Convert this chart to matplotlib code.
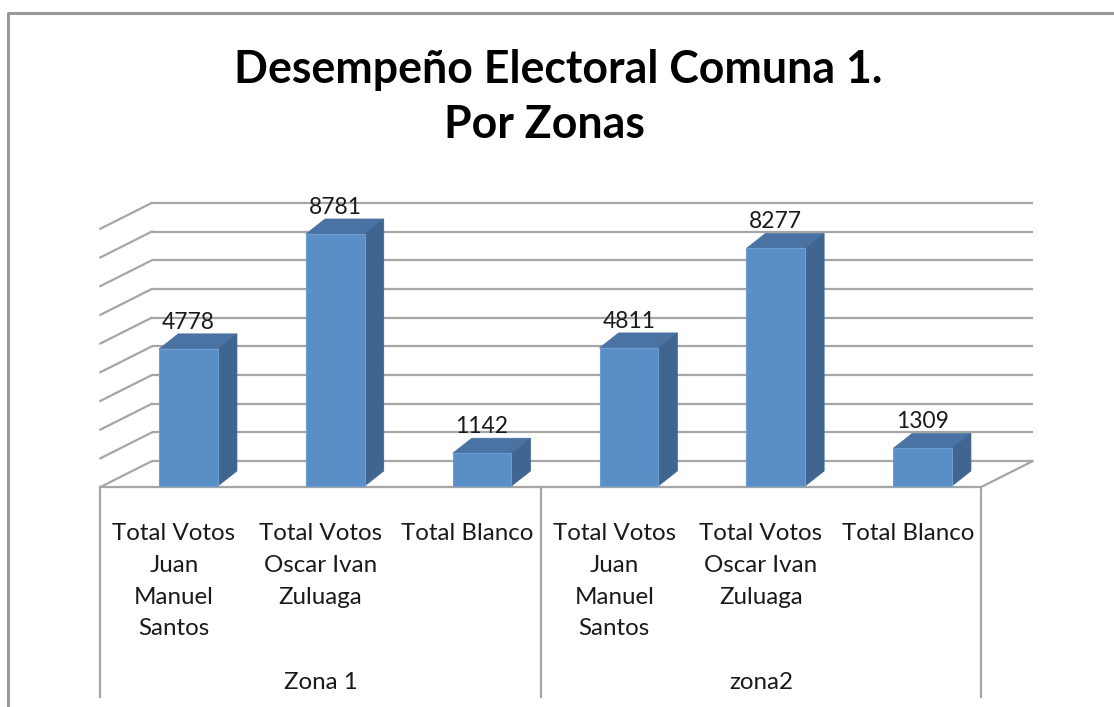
import matplotlib
matplotlib.use('Agg')
import matplotlib.pyplot as plt
from matplotlib.patches import Polygon

# ---------------- data ----------------
zones = ['Zona 1', 'zona2']
categories = ['Total Votos\nJuan\nManuel\nSantos',
              'Total Votos\nOscar Ivan\nZuluaga',
              'Total Blanco']
zona1_values = [4778, 8781, 1142]
zona2_values = [4811, 8277, 1309]
title_lines = ['Desempeño Electoral Comuna 1.', 'Por Zonas']
grid_ticks = list(range(0, 10000, 1000))

# ---------------- figure / scale ----------------
W, H, DPI = 1114, 707, 100
fig = plt.figure(figsize=(W / DPI, H / DPI), dpi=DPI)
ax = fig.add_axes([0, 0, 1, 1])
ax.axis('off')

FONT = ['Lato', 'DejaVu Sans']
plt.rcParams['font.family'] = FONT

CAT_PX = 146.8      # pixels per category
UNIT_PX = 0.0287    # pixels per vote
X0_PX = 188.5       # pixel x of first category's bar centre
Y0_PX = 486         # pixel y of value 0 (bar base)
ax.set_xlim((0 - X0_PX) / CAT_PX, (W - X0_PX) / CAT_PX)
ax.set_ylim((Y0_PX - H) / UNIT_PX, Y0_PX / UNIT_PX)

# 3-D look parameters (in data units)
FLOOR_Y = -35
FLOOR_DX, FLOOR_DY = 0.35, 900
FLOOR_L, FLOOR_R = -0.6, 5.4
BAR_W = 0.4
BAR_DX, BAR_DY = 0.13, 523
BOTTOM_Y = (Y0_PX - 697) / UNIT_PX

GRID_C = '#A6A6A6'
FRONT_C, TOP_C, SIDE_C, EDGE_C = '#5A8EC6', '#4A72A2', '#3F6590', '#6E9ED2'

# ---------------- helpers ----------------
def fit_size(text, target_px, weight='normal'):
    t = fig.text(0, 0, text, fontsize=20, weight=weight, family=FONT)
    r = fig.canvas.get_renderer()
    w = t.get_window_extent(r).width
    t.remove()
    return 20 * target_px / w

title_fs = fit_size(title_lines[0], 647, 'bold')
cat_fs = fit_size('Total Blanco', 132)
val_fs = fit_size('4778', 53)

# ---------------- walls / floor ----------------
for v in grid_ticks:
    yb = v + FLOOR_Y + FLOOR_DY
    ax.plot([FLOOR_L + FLOOR_DX, FLOOR_R + FLOOR_DX], [yb, yb],
            color=GRID_C, lw=1.6, zorder=1, solid_capstyle='butt')
    ax.plot([FLOOR_L, FLOOR_L + FLOOR_DX], [v + FLOOR_Y, yb],
            color=GRID_C, lw=1.6, zorder=1)
ax.plot([FLOOR_L, FLOOR_R, FLOOR_R + FLOOR_DX],
        [FLOOR_Y, FLOOR_Y, FLOOR_Y + FLOOR_DY], color=GRID_C, lw=1.6, zorder=1)

# category separators below the floor
n_cat = len(categories)
for k in range(len(zones) + 1):
    xs = FLOOR_L + k * n_cat
    ax.plot([xs, xs], [FLOOR_Y, BOTTOM_Y], color=GRID_C, lw=1.6, zorder=1)

# ---------------- bars ----------------
values = zona1_values + zona2_values
xpos = list(range(len(values)))
ax.bar(xpos, values, width=BAR_W, color=FRONT_C, edgecolor=EDGE_C,
       linewidth=0.8, zorder=4)
for x, v in zip(xpos, values):
    l, r = x - BAR_W / 2, x + BAR_W / 2
    top = Polygon([(l, v), (r, v), (r + BAR_DX, v + BAR_DY), (l + BAR_DX, v + BAR_DY)],
                  closed=True, facecolor=TOP_C, edgecolor=TOP_C, lw=0.5, zorder=3)
    side = Polygon([(r, 0), (r + BAR_DX, BAR_DY), (r + BAR_DX, v + BAR_DY), (r, v)],
                   closed=True, facecolor=SIDE_C, edgecolor=SIDE_C, lw=0.5, zorder=3)
    ax.add_patch(top)
    ax.add_patch(side)
    ax.annotate(str(v), xy=(x, v + BAR_DY), xytext=(0, 5), textcoords='offset pixels',
                ha='center', va='baseline', fontsize=val_fs, color='#1a1a1a', zorder=5)

# ---------------- category labels ----------------
LINE_PX = 31.8
for zi, zone in enumerate(zones):
    for ci, cat in enumerate(categories):
        xc = FLOOR_L + 0.5 + zi * n_cat + ci
        for j, line in enumerate(cat.split('\n')):
            ax.annotate(line, xy=(xc, FLOOR_Y), xytext=(0, -(53 + j * LINE_PX)),
                        textcoords='offset pixels', ha='center', va='baseline',
                        fontsize=cat_fs, color='#1a1a1a')
    ax.annotate(zone, xy=(FLOOR_L + zi * n_cat + n_cat / 2, FLOOR_Y), xytext=(0, -202),
                textcoords='offset pixels', ha='center', va='baseline',
                fontsize=cat_fs, color='#1a1a1a')

# ---------------- title ----------------
fig.text(558.5 / W, 1 - 83 / H, title_lines[0], ha='center', va='baseline',
         fontsize=title_fs, weight='bold', color='black')
fig.text(544 / W, 1 - 138 / H, title_lines[1], ha='center', va='baseline',
         fontsize=title_fs, weight='bold', color='black')

# ---------------- chart border ----------------
ax.plot([8 / W, 8 / W, 1], [0, 1 - 13 / H, 1 - 13 / H], transform=ax.transAxes,
        color='#999999', lw=2.2, clip_on=False)

fig.savefig('out.png', dpi=DPI)
